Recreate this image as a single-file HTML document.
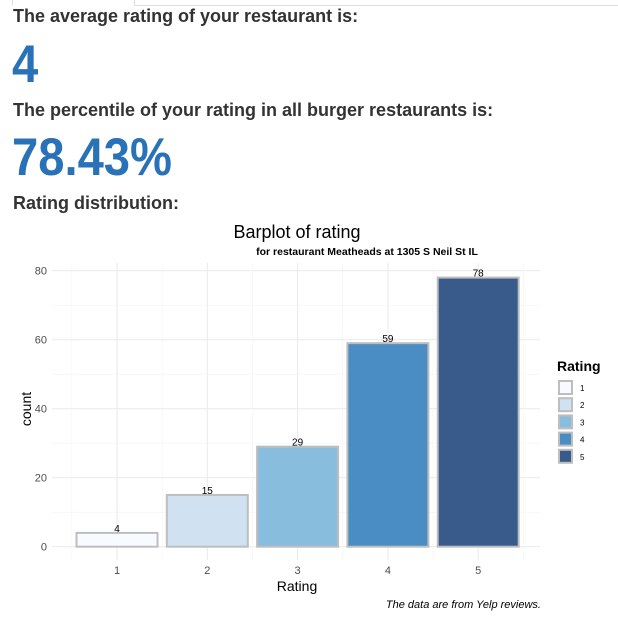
<!DOCTYPE html>
<html><head><meta charset="utf-8"><style>
body{margin:0;width:618px;height:636px;background:#fff;font-family:"Liberation Sans",sans-serif;position:relative;overflow:hidden}
.h{position:absolute;left:13px;font-weight:bold;font-size:18px;color:#333;margin:0;transform-origin:0 0}
.big{position:absolute;left:12px;font-weight:bold;font-size:53px;color:#2a72b8;margin:0;line-height:1;transform:scaleX(0.89);transform-origin:0 0}
</style></head><body>
<div style="position:absolute;left:12px;top:-2px;width:121px;height:7px;border:1px solid #ddd;border-top:none;border-bottom:none"></div>
<div style="position:absolute;left:134px;top:5px;width:484px;height:1px;background:#ddd"></div>
<p class="h" style="top:6px">The average rating of your restaurant is:</p>
<p class="big" style="top:38px">4</p>
<p class="h" style="top:100px">The percentile of your rating in all burger restaurants is:</p>
<p class="big" style="top:131px">78.43%</p>
<p class="h" style="top:193px">Rating distribution:</p>
<svg id="chart" width="618" height="416" style="position:absolute;left:0;top:220px" font-family="Liberation Sans, sans-serif"></svg>
<script>
const categories=["1","2","3","4","5"];
const counts=[4,15,29,59,78];
const yTicks=[0,20,40,60,80];
const fills=["#f7fbff","#d0e1f1","#88bddd","#4a8dc5","#385b8b"];
const svg=document.getElementById('chart');
const NS="http://www.w3.org/2000/svg";
const oy=220;
function y(v){return 546.7-oy-v*3.45;}
function x(i){return 117+i*90.3;}
function add(tag,attrs,text,parent){const e=document.createElementNS(NS,tag);for(const k in attrs)e.setAttribute(k,attrs[k]);if(text!==undefined)e.textContent=text;(parent||svg).appendChild(e);return e;}
for(let i=0;i<yTicks.length;i++){
 const g=add('line',{x1:52,x2:540,y1:y(yTicks[i]),y2:y(yTicks[i]),stroke:'#ebebeb','stroke-width':1.1});
 
 
 if(i<yTicks.length-1){const m=add('line',{x1:52,x2:540,y1:y(yTicks[i]+10),y2:y(yTicks[i]+10),stroke:'#f3f3f3','stroke-width':0.6});
 
 }
 const t=add('text',{x:47,y:y(yTicks[i])+4,'text-anchor':'end','font-size':11,fill:'#4d4d4d'},yTicks[i]);
 
 
}
for(let i=0;i<=categories.length;i++){
 const m=add('line',{x1:x(i)-45.15,x2:x(i)-45.15,y1:43,y2:340,stroke:'#f3f3f3','stroke-width':0.6});
 
 
}
for(let i=0;i<categories.length;i++){
 const g=add('line',{x1:x(i),x2:x(i),y1:43,y2:340,stroke:'#ebebeb','stroke-width':1.1});
 
 
}
for(let i=0;i<categories.length;i++){
 const r=add('rect',{x:x(i)-40.5,y:y(counts[i]),width:81,height:y(0)-y(counts[i]),fill:fills[i],stroke:'#bebebe','stroke-width':2});
 
 
 const l=add('text',{x:x(i),y:y(counts[i])-1,'text-anchor':'middle','font-size':10,fill:'#000'},counts[i]);
 
 
 const t=add('text',{x:x(i),y:354,'text-anchor':'middle','font-size':11,fill:'#4d4d4d'},categories[i]);
 
 
 const k=add('rect',{x:559,y:161+i*17.2,width:13,height:13,fill:fills[i],stroke:'#bebebe','stroke-width':2});
 
 
 const kl=add('text',{x:580,y:171+i*17.2,'font-size':8,fill:'#000'},categories[i]);
 
 
}
let e;
e=add('text',{x:297,y:18,'text-anchor':'middle','font-size':18,fill:'#000'},'Barplot of rating');


e=add('text',{x:367,y:35,'text-anchor':'middle','font-size':10.5,'font-weight':'bold',fill:'#000'},'for restaurant Meatheads at 1305 S Neil St IL');


e=add('text',{x:297,y:371,'text-anchor':'middle','font-size':14,fill:'#000'},'Rating');


e=add('text',{x:0,y:0,'text-anchor':'middle','font-size':14,fill:'#000',transform:'translate(31,189) rotate(-90)'},'count');


e=add('text',{x:557,y:151,'font-size':14,'font-weight':'bold',fill:'#000'},'Rating');


e=add('text',{x:541,y:388,'text-anchor':'end','font-size':11,'font-style':'italic',fill:'#000'},'The data are from Yelp reviews.');


</script>
</body></html>
